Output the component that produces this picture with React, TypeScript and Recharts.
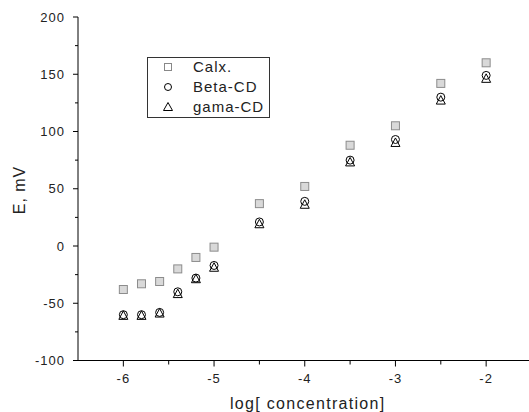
import { ScatterChart, Scatter, XAxis, YAxis, Legend } from "recharts";

// log concentration values shared by all three series
const logConc = [-6, -5.8, -5.6, -5.4, -5.2, -5, -4.5, -4, -3.5, -3, -2.5, -2];
const calx = [-38, -33, -31, -20, -10, -1, 37, 52, 88, 105, 142, 160];
const betaCD = [-60, -60, -58, -40, -28, -17, 21, 39, 75, 93, 130, 149];
const gamaCD = [-61, -61, -59, -42, -29, -19, 19, 36, 73, 90, 127, 146];

const seriesNames = ["Calx.", "Beta-CD", "gama-CD"];
const xTicks = [-6, -5.5, -5, -4.5, -4, -3.5, -3, -2.5, -2];
const yTicks = [-100, -75, -50, -25, 0, 25, 50, 75, 100, 125, 150, 175, 200];

const toPoints = (ys: number[]) => logConc.map((x, i) => ({ x, y: ys[i] }));

const FONT = "'Liberation Sans', Arial, sans-serif";
const TEXT = "#222";

const XTick = (props: any) => {
  const { x, y, payload } = props;
  const major = Number.isInteger(payload.value);
  return (
    <g>
      <line x1={x} x2={x} y1={y} y2={y + (major ? 6 : 4)} stroke="#000" />
      {major && (
        <text x={x} y={y + 22.5} textAnchor="middle" fontSize={13} fontFamily={FONT} fill={TEXT} letterSpacing={1}>
          {payload.value}
        </text>
      )}
    </g>
  );
};

const YTick = (props: any) => {
  const { x, y, payload } = props;
  const major = payload.value % 50 === 0;
  return (
    <g>
      <line x1={x - (major ? 5 : 3)} x2={x} y1={y} y2={y} stroke="#000" />
      {major && (
        <text x={x - 13} y={y + 4.5} textAnchor="end" fontSize={13} fontFamily={FONT} fill={TEXT} letterSpacing={1}>
          {payload.value}
        </text>
      )}
    </g>
  );
};

const Square = (p: any) => (
  <rect x={p.cx - 4} y={p.cy - 4} width={8} height={8} fill="#d9d9d9" stroke="#8c8c8c" strokeWidth={1} />
);
const Circle = (p: any) => <circle cx={p.cx} cy={p.cy} r={4} fill="none" stroke="#000" strokeWidth={1} />;
const Triangle = (p: any) => (
  <path d={`M${p.cx},${p.cy - 5}L${p.cx + 4.5},${p.cy + 3.5}L${p.cx - 4.5},${p.cy + 3.5}Z`} fill="none" stroke="#000" strokeWidth={1} />
);

const legendSymbol = (name: string) => {
  if (name === "Calx.") return <rect x={2.5} y={2.5} width={7} height={7} fill="#fff" stroke="#888" />;
  if (name === "Beta-CD") return <circle cx={6} cy={6} r={3.5} fill="none" stroke="#000" />;
  return <path d="M6,1.5L10.5,9.5L1.5,9.5Z" fill="none" stroke="#000" />;
};

const renderLegend = (props: any) => {
  const items = [...(props.payload || [])].sort(
    (a: any, b: any) => seriesNames.indexOf(a.value) - seriesNames.indexOf(b.value)
  );
  return (
    <div style={{ position: "relative", width: 123, height: 61, border: "1px solid #333", boxSizing: "border-box", background: "#fff" }}>
      {items.map((it: any, i: number) => (
        <div key={it.value} style={{ position: "absolute", left: 0, top: i * 20 - 1, height: 20, width: 121 }}>
          <svg width={12} height={12} style={{ position: "absolute", left: 14, top: 4 }}>
            {legendSymbol(it.value)}
          </svg>
          <span style={{ position: "absolute", left: 45, top: 0, lineHeight: "20px", fontSize: 15, fontFamily: FONT, color: TEXT, letterSpacing: 1, whiteSpace: "nowrap" }}>
            {it.value}
          </span>
        </div>
      ))}
    </div>
  );
};

export default function App() {
  return (
    <div style={{ position: "absolute", left: 0, top: 0, width: 529, height: 412, overflow: "hidden", background: "#fff" }}>
      <ScatterChart width={540} height={412} margin={{ top: 17, right: 8.5, left: 0, bottom: 21.5 }}>
        <XAxis
          type="number"
          dataKey="x"
          domain={[-6.5, -1.5]}
          ticks={xTicks}
          interval={0}
          height={30}
          tickSize={0}
          tickMargin={0}
          tickLine={false}
          axisLine={{ stroke: "#000" }}
          tick={<XTick />}
          label={(p: any) => (
            <text x={p.viewBox.x + p.viewBox.width / 2 + 3} y={409} textAnchor="middle" fontSize={16} fontFamily={FONT} fill={TEXT} letterSpacing={1.3}>
              log[ concentration]
            </text>
          )}
        />
        <YAxis
          type="number"
          dataKey="y"
          domain={[-100, 200]}
          ticks={yTicks}
          interval={0}
          width={78}
          tickSize={0}
          tickMargin={0}
          tickLine={false}
          axisLine={{ stroke: "#000" }}
          tick={<YTick />}
          label={() => (
            <text x={25} y={190} transform="rotate(-90 25 190)" textAnchor="middle" fontSize={16} fontFamily={FONT} fill={TEXT} letterSpacing={1}>
              E, mV
            </text>
          )}
        />
        <Legend
          layout="vertical"
          align="center"
          verticalAlign="middle"
          content={renderLegend}
          wrapperStyle={{ position: "absolute", left: 147, top: 57, width: 123, height: 61 }}
        />
        <Scatter name={seriesNames[0]} data={toPoints(calx)} shape={Square} isAnimationActive={false} />
        <Scatter name={seriesNames[1]} data={toPoints(betaCD)} shape={Circle} isAnimationActive={false} />
        <Scatter name={seriesNames[2]} data={toPoints(gamaCD)} shape={Triangle} isAnimationActive={false} />
      </ScatterChart>
    </div>
  );
}
